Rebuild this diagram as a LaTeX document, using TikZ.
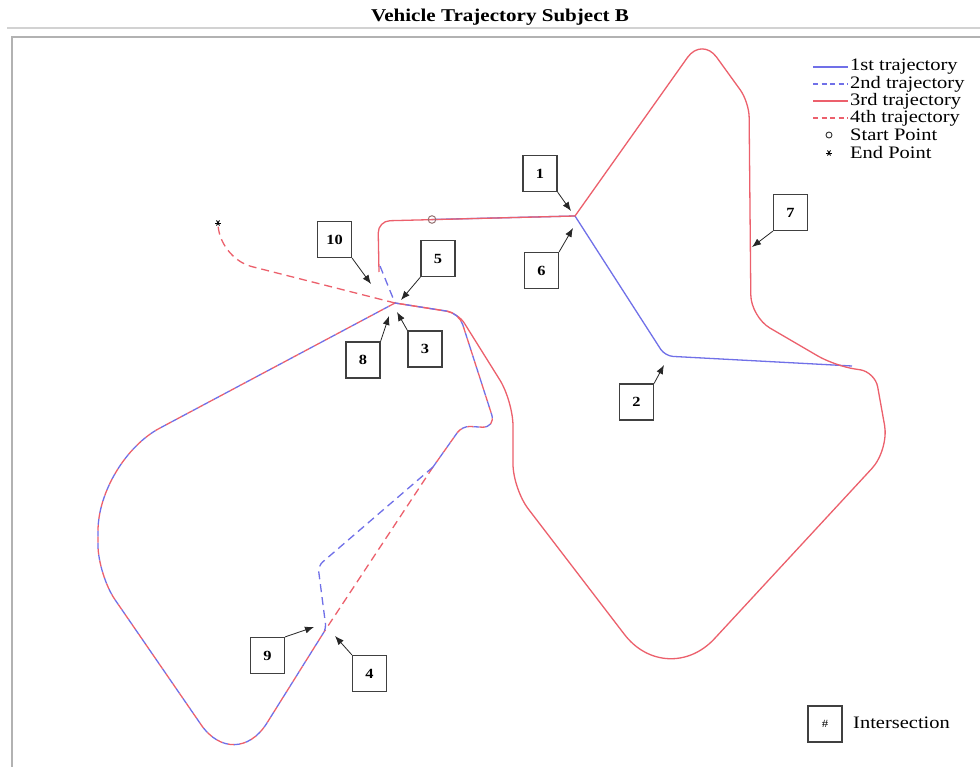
\documentclass[tikz,border=0pt]{standalone}
\usepackage{fontspec}
\setmainfont{Liberation Serif}[FakeStretch=1.17]
\usetikzlibrary{arrows.meta,calc}
\definecolor{tblue}{RGB}{112,112,232}
\definecolor{tred}{RGB}{236,96,108}
\definecolor{startc}{RGB}{150,115,115}
\begin{document}
\begin{tikzpicture}[x=1pt,y=-1pt,
  numbox/.style={draw=black!75, line width=1.2pt, minimum width=34pt, minimum height=36pt, inner sep=0pt, font=\fontsize{14}{14}\selectfont\bfseries},
  pointer/.style={draw=black!85, line width=0.8pt, -{Latex[length=9pt,width=7pt]}},
  traj/.style={line width=1.3pt},
  altblue/.style={traj, tblue, dash pattern=on 6pt off 6pt},
  altred/.style={traj, tred, dash pattern=on 6pt off 6pt, dash phase=6pt},
  dashblue/.style={traj, tblue, dash pattern=on 8pt off 5pt},
  dashred/.style={traj, tred, dash pattern=on 8pt off 5pt},
  legtext/.style={anchor=west, inner sep=0pt, font=\fontsize{17.5}{17.5}\selectfont},
  asterisk/.style={line width=0.9pt, black}
]
\useasboundingbox[fill=white] (0,0) rectangle (980,767);
% title and frame
\node[font=\fontsize{18}{18}\selectfont\bfseries] (title) at (500,17) {Vehicle Trajectory Subject B};
\draw[gray!35, line width=1.5pt] (7,28) -- (980,28);
\draw[gray!60, line width=2.5pt] (12,767) -- (12,37) -- (980,37);

% key points
\coordinate (X) at (395,303);
\coordinate (Q1) at (433,467);
\coordinate (D) at (324,632);
\coordinate (S) at (432,219.5);
\coordinate (E) at (218,223);

% 1st trajectory (blue solid)
\draw[traj, tblue] (S) -- (575,216) [rounded corners=8pt] -- (665,356) -- (852,366);

% 3rd trajectory (red solid)
\draw[traj, tred] (379,272) [rounded corners=12pt] -- (378,221) [sharp corners] -- (575,216)
  [rounded corners=25pt] -- (702,37) [rounded corners=15pt] -- (749,102)
  [rounded corners=22pt] -- (751,317) [rounded corners=20pt] -- (835,366)
  [rounded corners=15pt] -- (875,372) [rounded corners=25pt] -- (889,450)
  [rounded corners=70pt] -- (667,690) [rounded corners=25pt] -- (513,489)
  [rounded corners=25pt] -- (513,401) [rounded corners=12pt] -- (458,313) [sharp corners] -- (X);

% shared part of 2nd and 4th trajectories (alternating dashes)
\foreach \sty in {altblue,altred}{
\draw[\sty] (Q1) [rounded corners=8pt] -- (462,426) [rounded corners=14pt] -- (496,428)
  [rounded corners=12pt] -- (459,313) [sharp corners] -- (X)
  [rounded corners=70pt] -- (98,461) [rounded corners=30pt] -- (98,575)
  [rounded corners=60pt] -- (235,774) [sharp corners] -- (D);
}
% diverging parts
\draw[dashred] (Q1) -- (D);
\draw[dashblue] (Q1) [rounded corners=6pt] -- (318,566) [rounded corners=4pt] -- (326,628) -- (D);
% 2nd trajectory start
\draw[dashblue] (380,266) -- (X);
% 4th trajectory end
\draw[dashred] (X) [rounded corners=35pt] -- (218,258) [sharp corners] -- (E);

% start / end markers
\draw[startc, line width=1pt] (S) circle (3.8pt);
\foreach \a in {0,60,120}{\draw[asterisk] ($(E)+(\a:3pt)$) -- ($(E)+(\a+180:3pt)$);}

% intersection boxes
\node[numbox] (n1) at (540,173.5) {1};
\node[numbox] (n6) at (541.5,270.5) {6};
\node[numbox] (n10) at (334.5,239.5) {10};
\node[numbox] (n5) at (438,258.5) {5};
\node[numbox] (n8) at (363,360) {8};
\node[numbox] (n3) at (425,349) {3};
\node[numbox] (n2) at (636.5,402) {2};
\node[numbox] (n7) at (790.5,212.5) {7};
\node[numbox] (n9) at (267.5,655.5) {9};
\node[numbox] (n4) at (369.5,673.5) {4};

\coordinate (t1) at (571,211);
\coordinate (t6) at (573,228);
\coordinate (t10) at (371,284);
\coordinate (t5) at (401,300);
\coordinate (t8) at (389,316);
\coordinate (t3) at (397,312);
\coordinate (t2) at (664,365);
\coordinate (t7) at (752,247);
\coordinate (t9) at (314,627);
\coordinate (t4) at (335,636);

\draw[pointer] (n1.south east) -- (t1);
\draw[pointer] (n6.north east) -- (t6);
\draw[pointer] (n10.south east) -- (t10);
\draw[pointer] (n5.south west) -- (t5);
\draw[pointer] (n8.north east) -- (t8);
\draw[pointer] (n3.north west) -- (t3);
\draw[pointer] (n2.north east) -- (t2);
\draw[pointer] (n7.south west) -- (t7);
\draw[pointer] (n9.north east) -- (t9);
\draw[pointer] (n4.north west) -- (t4);

% legend
\coordinate (l1a) at (813,67); \coordinate (l1b) at (848,67);
\coordinate (l2a) at (813,84); \coordinate (l2b) at (848,84);
\coordinate (l3a) at (813,101); \coordinate (l3b) at (848,101);
\coordinate (l4a) at (813,118); \coordinate (l4b) at (848,118);
\draw[traj, tblue] (l1a) -- (l1b);
\draw[traj, tblue, dash pattern=on 5pt off 3.5pt] (l2a) -- (l2b);
\draw[traj, tred] (l3a) -- (l3b);
\draw[traj, tred, dash pattern=on 5pt off 3.5pt] (l4a) -- (l4b);
\node[legtext] (lt1) at (850,67) {1st trajectory};
\node[legtext] (lt2) at (850,84) {2nd trajectory};
\node[legtext] (lt3) at (850,101) {3rd trajectory};
\node[legtext] (lt4) at (850,118) {4th trajectory};
\coordinate (ls) at (829,135);
\coordinate (le) at (829,153);
\draw[black!80, line width=0.9pt] (ls) circle (3pt);
\foreach \a in {0,60,120}{\draw[asterisk] ($(le)+(\a:3pt)$) -- ($(le)+(\a+180:3pt)$);}
\node[legtext] (lt5) at (850,135) {Start Point};
\node[legtext] (lt6) at (850,153) {End Point};

\node[numbox, font=\fontsize{11}{11}\selectfont] (nh) at (825,724) {\#};
\node[legtext] (lti) at (853,723) {Intersection};
\end{tikzpicture}
\end{document}
